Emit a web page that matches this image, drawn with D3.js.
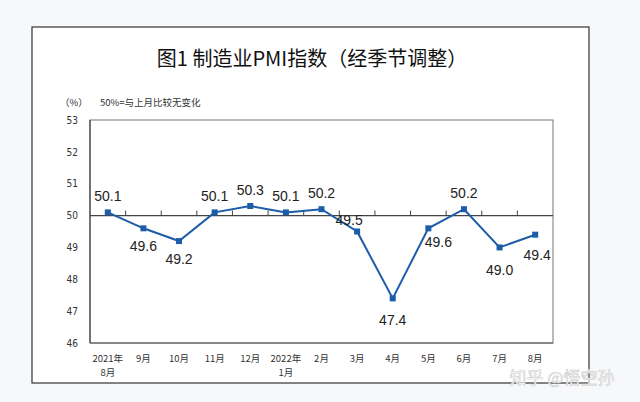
<!DOCTYPE html>
<html>
<head>
<meta charset="utf-8">
<script src="https://cdn.jsdelivr.net/npm/d3@7"></script>
<style>
  body { margin: 0; background: #f7f8fa; }
  svg { display: block; }
</style>
</head>
<body>
<div id="chart"></div>
<script>
const months = ["2021年|8月", "9月", "10月", "11月", "12月", "2022年|1月", "2月", "3月", "4月", "5月", "6月", "7月", "8月"];
const pmi = [50.1, 49.6, 49.2, 50.1, 50.3, 50.1, 50.2, 49.5, 47.4, 49.6, 50.2, 49.0, 49.4];
const yTicks = [46, 47, 48, 49, 50, 51, 52, 53];
// label offsets relative to point [dx, dy]
const labelPos = [[0,-16],[0,18],[0,18],[0,-16],[0,-16],[0,-16],[0,-16],[-8,-12],[0,22],[10,14],[0,-16],[0,23],[2,20]];

const w = 640, h = 402;
const svg = d3.select("#chart").append("svg").attr("width", w).attr("height", h);

// outer frame
svg.append("rect").attr("x", 32).attr("y", 27).attr("width", 557).attr("height", 356)
  .attr("fill", "#fff").attr("stroke", "#333").attr("stroke-width", 1.2);

svg.append("text").attr("x", 312).attr("y", 66).attr("text-anchor", "middle")
  .attr("font-family", "Noto Sans CJK SC").attr("font-size", 20).attr("font-weight", 400)
  .attr("fill", "#111").text("图1 制造业PMI指数（经季节调整）");

svg.append("text").attr("x", 60).attr("y", 106).attr("font-family", "Noto Sans CJK SC")
  .attr("font-size", 9.5).attr("fill", "#333").text("（%）");
svg.append("text").attr("x", 100).attr("y", 106).attr("font-family", "Noto Sans CJK SC")
  .attr("font-size", 9.5).attr("fill", "#333").text("50%=与上月比较无变化");

const pLeft = 90, pRight = 553, pTop = 120, pBottom = 343;

const x = d3.scaleBand().domain(months).range([pLeft, pRight]);
const y = d3.scaleLinear().domain([46, 53]).range([pBottom, pTop]);

// plot area
svg.append("rect").attr("x", pLeft).attr("y", pTop).attr("width", pRight - pLeft).attr("height", pBottom - pTop)
  .attr("fill", "#fff").attr("stroke", "#777").attr("stroke-width", 1);
svg.append("line").attr("x1", pLeft).attr("x2", pLeft).attr("y1", pTop).attr("y2", pBottom)
  .attr("stroke", "#444").attr("stroke-width", 1.2);
svg.append("line").attr("x1", pLeft).attr("x2", pRight).attr("y1", pBottom).attr("y2", pBottom)
  .attr("stroke", "#555").attr("stroke-width", 1.2);

// y axis labels
const yAxis = d3.axisLeft(y).tickValues(yTicks).tickSize(0).tickPadding(12).tickFormat(d3.format("d"));
const gy = svg.append("g").attr("transform", "translate(" + pLeft + ",0)").call(yAxis);
gy.select(".domain").remove();
gy.selectAll("text").attr("font-family", "DejaVu Sans Condensed").attr("font-size", 10).attr("fill", "#333");

// 50 line with ticks at band boundaries
svg.append("line").attr("x1", pLeft).attr("x2", pRight).attr("y1", y(50)).attr("y2", y(50))
  .attr("stroke", "#444").attr("stroke-width", 1.2);
svg.selectAll(".tk50").data(months.slice(1)).enter().append("line")
  .attr("x1", d => x(d)).attr("x2", d => x(d))
  .attr("y1", y(50)).attr("y2", y(50) - 5).attr("stroke", "#444").attr("stroke-width", 1);

// x labels
const xl = svg.selectAll(".xl").data(months).enter().append("text")
  .attr("text-anchor", "middle").attr("font-family", "Noto Sans CJK SC")
  .attr("font-size", 9.5).attr("fill", "#333");
xl.each(function(d) {
  const parts = d.split("|");
  const t = d3.select(this);
  parts.forEach((p, i) => {
    t.append("tspan").attr("x", x(d) + x.bandwidth() / 2).attr("y", 362 + i * 14).text(p);
  });
});

// line
const cx = (d, i) => x(months[i]) + x.bandwidth() / 2;
const line = d3.line().x(cx).y(d => y(d));
svg.append("path").datum(pmi).attr("d", line).attr("fill", "none")
  .attr("stroke", "#1c5ca8").attr("stroke-width", 2);
svg.selectAll(".pt").data(pmi).enter().append("rect")
  .attr("x", (d, i) => cx(d, i) - 3).attr("y", d => y(d) - 3)
  .attr("width", 6).attr("height", 6).attr("fill", "#1c5ca8");

// value labels
svg.selectAll(".vl").data(pmi).enter().append("text")
  .attr("x", (d, i) => cx(d, i) + labelPos[i][0])
  .attr("y", (d, i) => y(d) + labelPos[i][1] + 5)
  .attr("text-anchor", "middle").attr("font-family", "Liberation Sans")
  .attr("font-size", 14).attr("fill", "#222")
  .text(d => d.toFixed(1));

// watermark
svg.append("text").attr("x", 562).attr("y", 384).attr("text-anchor", "middle")
  .attr("font-family", "Noto Sans CJK SC").attr("font-size", 17)
  .attr("fill", "#fff").attr("stroke", "#ccc").attr("stroke-width", 0.6)
  .text("知乎 @悟空孙");
</script>
</body>
</html>
